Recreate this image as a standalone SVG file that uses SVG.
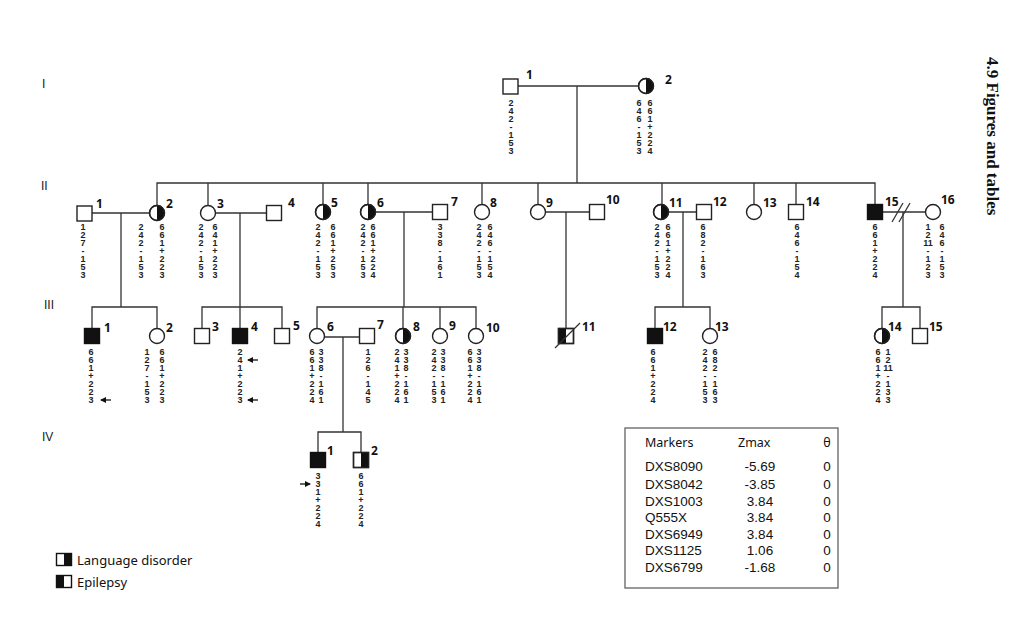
<svg xmlns="http://www.w3.org/2000/svg" width="1019" height="625" viewBox="0 0 1019 625">
<defs>
<style>
.ln{stroke:#333;stroke-width:1.3;fill:none}
.nd{fill:#fff;stroke:#222;stroke-width:1.4}
.bk{fill:#111;stroke:none}
.lbl{font-family:"Noto Sans","Liberation Sans",sans-serif;font-size:12px;font-weight:bold;fill:#111}
.g{font-family:"Liberation Sans",sans-serif;font-size:9px;font-weight:bold;fill:#222;text-anchor:middle}
.gen{font-family:"Liberation Sans",sans-serif;font-size:12px;fill:#222}
.tb{font-family:"Liberation Sans",sans-serif;font-size:13.5px;fill:#111}
.th{font-family:"Noto Sans","Liberation Sans",sans-serif;font-size:12.5px;fill:#111}
.lg{font-family:"Noto Sans","Liberation Sans",sans-serif;font-size:13px;fill:#111}
.ar{stroke:#111;stroke-width:1.3;fill:none}
</style>
<marker id="ah" markerWidth="6" markerHeight="6" refX="5" refY="3" orient="auto" markerUnits="userSpaceOnUse">
<path d="M0,0 L6,3 L0,6 Z" fill="#111"/>
</marker>
</defs>
<rect width="1019" height="625" fill="#fff"/>

<!-- generation numerals -->
<text class="gen" x="42" y="88">I</text>
<text class="gen" x="41" y="190">II</text>
<text class="gen" x="44" y="309">III</text>
<text class="gen" x="42" y="441">IV</text>

<g id="connectors">
<path class="ln" d="M517,86 H639"/>
<path class="ln" d="M577,86 V183"/>
<path class="ln" d="M157,205.5 V183 H875 V204.5"/>
<path class="ln" d="M208,183 V205.5 M323,183 V204.5 M368,183 V204.5 M482,183 V204.5 M538,183 V204.5 M662,183 V204.5 M754,183 V204.5 M796,183 V204.5"/>
<path class="ln" d="M91.5,213 H149.5 M121,213 V307 M92,328.5 V307 H157 V328.5"/>
<path class="ln" d="M215.5,213 H266.5 M240,213 V328.5 M202,328.5 V307 H282 V328.5"/>
<path class="ln" d="M375.5,212 H432.5 M404,212 V307 M317,328.5 V307 H476 V328.5 M403,307 V328.5 M440,307 V328.5"/>
<path class="ln" d="M545.5,212 H589.5 M566,212 V328.5"/>
<path class="ln" d="M668.5,212 H696.5 M683,212 V307 M655,328.5 V307 H710 V328.5"/>
<path class="ln" d="M882.5,212 H925.5 M903,212 V307 M882,328.5 V307 H920 V328.5"/>
<path class="ln" d="M892,222 L903,203 M899,222 L910,203"/>
<path class="ln" d="M324.5,337 H359.5 M343,337 V432 M318,452.5 V432 H361 V452.5"/>
</g>

<!-- Generation I -->
<g id="I-1"><rect class="nd" x="503" y="79" width="15" height="15"/><text class="lbl" x="526" y="79">1</text>
<text class="g" y="106"><tspan x="511">2</tspan><tspan x="511" dy="8">4</tspan><tspan x="511" dy="8">2</tspan><tspan x="511" dy="8">-</tspan><tspan x="511" dy="8">1</tspan><tspan x="511" dy="8">5</tspan><tspan x="511" dy="8">3</tspan></text></g>
<g id="I-2"><circle class="nd" cx="646" cy="86" r="7.5"/><path class="bk" d="M646,78.5 A7.5,7.5 0 0 1 646,93.5 Z"/><circle cx="646" cy="86" r="7.5" fill="none" stroke="#222" stroke-width="1.4"/><text class="lbl" x="665" y="84">2</text>
<text class="g" y="106"><tspan x="639">6</tspan><tspan x="639" dy="8">4</tspan><tspan x="639" dy="8">6</tspan><tspan x="639" dy="8">-</tspan><tspan x="639" dy="8">1</tspan><tspan x="639" dy="8">5</tspan><tspan x="639" dy="8">3</tspan></text>
<text class="g" y="106"><tspan x="650">6</tspan><tspan x="650" dy="8">6</tspan><tspan x="650" dy="8">1</tspan><tspan x="650" dy="8">+</tspan><tspan x="650" dy="8">2</tspan><tspan x="650" dy="8">2</tspan><tspan x="650" dy="8">4</tspan></text></g>

<!-- Generation II -->
<g id="II-1"><rect class="nd" x="77" y="206" width="15" height="15"/><text class="lbl" x="96" y="208">1</text>
<text class="g" y="230"><tspan x="83">1</tspan><tspan x="83" dy="8">2</tspan><tspan x="83" dy="8">7</tspan><tspan x="83" dy="8">-</tspan><tspan x="83" dy="8">1</tspan><tspan x="83" dy="8">5</tspan><tspan x="83" dy="8">3</tspan></text></g>
<g id="II-2"><circle class="nd" cx="157" cy="213" r="7.5"/><path class="bk" d="M157,205.5 A7.5,7.5 0 0 1 157,220.5 Z"/><circle cx="157" cy="213" r="7.5" fill="none" stroke="#222" stroke-width="1.4"/><text class="lbl" x="166" y="208">2</text>
<text class="g" y="230"><tspan x="141">2</tspan><tspan x="141" dy="8">4</tspan><tspan x="141" dy="8">2</tspan><tspan x="141" dy="8">-</tspan><tspan x="141" dy="8">1</tspan><tspan x="141" dy="8">5</tspan><tspan x="141" dy="8">3</tspan></text>
<text class="g" y="230"><tspan x="162">6</tspan><tspan x="162" dy="8">6</tspan><tspan x="162" dy="8">1</tspan><tspan x="162" dy="8">+</tspan><tspan x="162" dy="8">2</tspan><tspan x="162" dy="8">2</tspan><tspan x="162" dy="8">3</tspan></text></g>
<g id="II-3"><circle class="nd" cx="208" cy="213" r="7.5"/><text class="lbl" x="217" y="208">3</text>
<text class="g" y="230"><tspan x="201">2</tspan><tspan x="201" dy="8">4</tspan><tspan x="201" dy="8">2</tspan><tspan x="201" dy="8">-</tspan><tspan x="201" dy="8">1</tspan><tspan x="201" dy="8">5</tspan><tspan x="201" dy="8">3</tspan></text>
<text class="g" y="230"><tspan x="215">6</tspan><tspan x="215" dy="8">4</tspan><tspan x="215" dy="8">1</tspan><tspan x="215" dy="8">+</tspan><tspan x="215" dy="8">2</tspan><tspan x="215" dy="8">2</tspan><tspan x="215" dy="8">3</tspan></text></g>
<g id="II-4"><rect class="nd" x="266.5" y="205.5" width="15" height="15"/><text class="lbl" x="288" y="207">4</text></g>
<g id="II-5"><circle class="nd" cx="323" cy="212" r="7.5"/><path class="bk" d="M323,204.5 A7.5,7.5 0 0 1 323,219.5 Z"/><circle cx="323" cy="212" r="7.5" fill="none" stroke="#222" stroke-width="1.4"/><text class="lbl" x="331" y="207">5</text>
<text class="g" y="230"><tspan x="318">2</tspan><tspan x="318" dy="8">4</tspan><tspan x="318" dy="8">2</tspan><tspan x="318" dy="8">-</tspan><tspan x="318" dy="8">1</tspan><tspan x="318" dy="8">5</tspan><tspan x="318" dy="8">3</tspan></text>
<text class="g" y="230"><tspan x="333">6</tspan><tspan x="333" dy="8">6</tspan><tspan x="333" dy="8">1</tspan><tspan x="333" dy="8">+</tspan><tspan x="333" dy="8">2</tspan><tspan x="333" dy="8">5</tspan><tspan x="333" dy="8">3</tspan></text></g>
<g id="II-6"><circle class="nd" cx="368" cy="212" r="7.5"/><path class="bk" d="M368,204.5 A7.5,7.5 0 0 1 368,219.5 Z"/><circle cx="368" cy="212" r="7.5" fill="none" stroke="#222" stroke-width="1.4"/><text class="lbl" x="377" y="207">6</text>
<text class="g" y="230"><tspan x="363">2</tspan><tspan x="363" dy="8">4</tspan><tspan x="363" dy="8">2</tspan><tspan x="363" dy="8">-</tspan><tspan x="363" dy="8">1</tspan><tspan x="363" dy="8">5</tspan><tspan x="363" dy="8">3</tspan></text>
<text class="g" y="230"><tspan x="373">6</tspan><tspan x="373" dy="8">6</tspan><tspan x="373" dy="8">1</tspan><tspan x="373" dy="8">+</tspan><tspan x="373" dy="8">2</tspan><tspan x="373" dy="8">2</tspan><tspan x="373" dy="8">4</tspan></text></g>
<g id="II-7"><rect class="nd" x="432.5" y="204.5" width="15" height="15"/><text class="lbl" x="451" y="206">7</text>
<text class="g" y="230"><tspan x="440">3</tspan><tspan x="440" dy="8">3</tspan><tspan x="440" dy="8">8</tspan><tspan x="440" dy="8">-</tspan><tspan x="440" dy="8">1</tspan><tspan x="440" dy="8">6</tspan><tspan x="440" dy="8">1</tspan></text></g>
<g id="II-8"><circle class="nd" cx="482" cy="212" r="7.5"/><text class="lbl" x="490" y="207">8</text>
<text class="g" y="230"><tspan x="479">2</tspan><tspan x="479" dy="8">4</tspan><tspan x="479" dy="8">2</tspan><tspan x="479" dy="8">-</tspan><tspan x="479" dy="8">1</tspan><tspan x="479" dy="8">5</tspan><tspan x="479" dy="8">3</tspan></text>
<text class="g" y="230"><tspan x="490">6</tspan><tspan x="490" dy="8">4</tspan><tspan x="490" dy="8">6</tspan><tspan x="490" dy="8">-</tspan><tspan x="490" dy="8">1</tspan><tspan x="490" dy="8">5</tspan><tspan x="490" dy="8">4</tspan></text></g>
<g id="II-9"><circle class="nd" cx="538" cy="212" r="7.5"/><text class="lbl" x="546" y="207">9</text></g>
<g id="II-10"><rect class="nd" x="589.5" y="204.5" width="15" height="15"/><text class="lbl" x="606" y="204">10</text></g>
<g id="II-11"><circle class="nd" cx="661" cy="212" r="7.5"/><path class="bk" d="M661,204.5 A7.5,7.5 0 0 1 661,219.5 Z"/><circle cx="661" cy="212" r="7.5" fill="none" stroke="#222" stroke-width="1.4"/><text class="lbl" x="669" y="207">11</text>
<text class="g" y="230"><tspan x="657">2</tspan><tspan x="657" dy="8">4</tspan><tspan x="657" dy="8">2</tspan><tspan x="657" dy="8">-</tspan><tspan x="657" dy="8">1</tspan><tspan x="657" dy="8">5</tspan><tspan x="657" dy="8">3</tspan></text>
<text class="g" y="230"><tspan x="668">6</tspan><tspan x="668" dy="8">6</tspan><tspan x="668" dy="8">1</tspan><tspan x="668" dy="8">+</tspan><tspan x="668" dy="8">2</tspan><tspan x="668" dy="8">2</tspan><tspan x="668" dy="8">4</tspan></text></g>
<g id="II-12"><rect class="nd" x="696.5" y="204.5" width="15" height="15"/><text class="lbl" x="713" y="206">12</text>
<text class="g" y="230"><tspan x="703">6</tspan><tspan x="703" dy="8">8</tspan><tspan x="703" dy="8">2</tspan><tspan x="703" dy="8">-</tspan><tspan x="703" dy="8">1</tspan><tspan x="703" dy="8">6</tspan><tspan x="703" dy="8">3</tspan></text></g>
<g id="II-13"><circle class="nd" cx="754" cy="212" r="7.5"/><text class="lbl" x="763" y="207">13</text></g>
<g id="II-14"><rect class="nd" x="788.5" y="204.5" width="15" height="15"/><text class="lbl" x="806" y="206">14</text>
<text class="g" y="230"><tspan x="797">6</tspan><tspan x="797" dy="8">4</tspan><tspan x="797" dy="8">6</tspan><tspan x="797" dy="8">-</tspan><tspan x="797" dy="8">1</tspan><tspan x="797" dy="8">5</tspan><tspan x="797" dy="8">4</tspan></text></g>
<g id="II-15"><rect x="867.5" y="204.5" width="15" height="15" fill="#111" stroke="#111" stroke-width="1.4"/><text class="lbl" x="885" y="206">15</text>
<text class="g" y="230"><tspan x="875">6</tspan><tspan x="875" dy="8">6</tspan><tspan x="875" dy="8">1</tspan><tspan x="875" dy="8">+</tspan><tspan x="875" dy="8">2</tspan><tspan x="875" dy="8">2</tspan><tspan x="875" dy="8">4</tspan></text></g>
<g id="II-16"><circle class="nd" cx="933" cy="212" r="7.5"/><text class="lbl" x="941" y="204">16</text>
<text class="g" y="230"><tspan x="928">1</tspan><tspan x="928" dy="8">2</tspan><tspan x="928" dy="8">11</tspan><tspan x="928" dy="8">-</tspan><tspan x="928" dy="8">1</tspan><tspan x="928" dy="8">2</tspan><tspan x="928" dy="8">3</tspan></text>
<text class="g" y="230"><tspan x="942">6</tspan><tspan x="942" dy="8">4</tspan><tspan x="942" dy="8">6</tspan><tspan x="942" dy="8">-</tspan><tspan x="942" dy="8">1</tspan><tspan x="942" dy="8">5</tspan><tspan x="942" dy="8">3</tspan></text></g>

<!-- Generation III -->
<g id="III-1"><rect x="84.5" y="328.5" width="15" height="15" fill="#111" stroke="#111" stroke-width="1.4"/><text class="lbl" x="104" y="332">1</text>
<text class="g" y="355"><tspan x="91">6</tspan><tspan x="91" dy="8">6</tspan><tspan x="91" dy="8">1</tspan><tspan x="91" dy="8">+</tspan><tspan x="91" dy="8">2</tspan><tspan x="91" dy="8">2</tspan><tspan x="91" dy="8">3</tspan></text>
<path class="ar" d="M111,400 H101" marker-end="url(#ah)"/></g>
<g id="III-2"><circle class="nd" cx="157" cy="336" r="7.5"/><text class="lbl" x="166" y="332">2</text>
<text class="g" y="355"><tspan x="147">1</tspan><tspan x="147" dy="8">2</tspan><tspan x="147" dy="8">7</tspan><tspan x="147" dy="8">-</tspan><tspan x="147" dy="8">1</tspan><tspan x="147" dy="8">5</tspan><tspan x="147" dy="8">3</tspan></text>
<text class="g" y="355"><tspan x="162">6</tspan><tspan x="162" dy="8">6</tspan><tspan x="162" dy="8">1</tspan><tspan x="162" dy="8">+</tspan><tspan x="162" dy="8">2</tspan><tspan x="162" dy="8">2</tspan><tspan x="162" dy="8">3</tspan></text></g>
<g id="III-3"><rect class="nd" x="194.5" y="328.5" width="15" height="15"/><text class="lbl" x="212" y="331">3</text></g>
<g id="III-4"><rect x="232.5" y="328.5" width="15" height="15" fill="#111" stroke="#111" stroke-width="1.4"/><text class="lbl" x="251" y="331">4</text>
<text class="g" y="355"><tspan x="240">2</tspan><tspan x="240" dy="8">4</tspan><tspan x="240" dy="8">1</tspan><tspan x="240" dy="8">+</tspan><tspan x="240" dy="8">2</tspan><tspan x="240" dy="8">2</tspan><tspan x="240" dy="8">3</tspan></text>
<path class="ar" d="M258,360 H248" marker-end="url(#ah)"/>
<path class="ar" d="M258,400 H248" marker-end="url(#ah)"/></g>
<g id="III-5"><rect class="nd" x="274.5" y="328.5" width="15" height="15"/><text class="lbl" x="293" y="330">5</text></g>
<g id="III-6"><circle class="nd" cx="317" cy="336" r="7.5"/><text class="lbl" x="327" y="331">6</text>
<text class="g" y="355"><tspan x="312">6</tspan><tspan x="312" dy="8">6</tspan><tspan x="312" dy="8">1</tspan><tspan x="312" dy="8">+</tspan><tspan x="312" dy="8">2</tspan><tspan x="312" dy="8">2</tspan><tspan x="312" dy="8">4</tspan></text>
<text class="g" y="355"><tspan x="321">3</tspan><tspan x="321" dy="8">3</tspan><tspan x="321" dy="8">8</tspan><tspan x="321" dy="8">-</tspan><tspan x="321" dy="8">1</tspan><tspan x="321" dy="8">6</tspan><tspan x="321" dy="8">1</tspan></text></g>
<g id="III-7"><rect class="nd" x="359.5" y="328.5" width="15" height="15"/><text class="lbl" x="377" y="329">7</text>
<text class="g" y="355"><tspan x="368">1</tspan><tspan x="368" dy="8">2</tspan><tspan x="368" dy="8">6</tspan><tspan x="368" dy="8">-</tspan><tspan x="368" dy="8">1</tspan><tspan x="368" dy="8">4</tspan><tspan x="368" dy="8">5</tspan></text></g>
<g id="III-8"><circle class="nd" cx="403" cy="336" r="7.5"/><path class="bk" d="M403,328.5 A7.5,7.5 0 0 1 403,343.5 Z"/><circle cx="403" cy="336" r="7.5" fill="none" stroke="#222" stroke-width="1.4"/><text class="lbl" x="413" y="331">8</text>
<text class="g" y="355"><tspan x="397">2</tspan><tspan x="397" dy="8">4</tspan><tspan x="397" dy="8">1</tspan><tspan x="397" dy="8">+</tspan><tspan x="397" dy="8">2</tspan><tspan x="397" dy="8">2</tspan><tspan x="397" dy="8">4</tspan></text>
<text class="g" y="355"><tspan x="406">3</tspan><tspan x="406" dy="8">3</tspan><tspan x="406" dy="8">8</tspan><tspan x="406" dy="8">-</tspan><tspan x="406" dy="8">1</tspan><tspan x="406" dy="8">6</tspan><tspan x="406" dy="8">1</tspan></text></g>
<g id="III-9"><circle class="nd" cx="440" cy="336" r="7.5"/><text class="lbl" x="449" y="330">9</text>
<text class="g" y="355"><tspan x="434">2</tspan><tspan x="434" dy="8">4</tspan><tspan x="434" dy="8">2</tspan><tspan x="434" dy="8">-</tspan><tspan x="434" dy="8">1</tspan><tspan x="434" dy="8">5</tspan><tspan x="434" dy="8">3</tspan></text>
<text class="g" y="355"><tspan x="443">3</tspan><tspan x="443" dy="8">3</tspan><tspan x="443" dy="8">8</tspan><tspan x="443" dy="8">-</tspan><tspan x="443" dy="8">1</tspan><tspan x="443" dy="8">6</tspan><tspan x="443" dy="8">1</tspan></text></g>
<g id="III-10"><circle class="nd" cx="476" cy="336" r="7.5"/><text class="lbl" x="486" y="332">10</text>
<text class="g" y="355"><tspan x="470">6</tspan><tspan x="470" dy="8">6</tspan><tspan x="470" dy="8">1</tspan><tspan x="470" dy="8">+</tspan><tspan x="470" dy="8">2</tspan><tspan x="470" dy="8">2</tspan><tspan x="470" dy="8">4</tspan></text>
<text class="g" y="355"><tspan x="479">3</tspan><tspan x="479" dy="8">3</tspan><tspan x="479" dy="8">8</tspan><tspan x="479" dy="8">-</tspan><tspan x="479" dy="8">1</tspan><tspan x="479" dy="8">6</tspan><tspan x="479" dy="8">1</tspan></text></g>
<g id="III-11"><rect class="nd" x="558.5" y="328.5" width="15" height="15"/><rect class="bk" x="558.5" y="328.5" width="7.5" height="15"/><rect x="558.5" y="328.5" width="15" height="15" fill="none" stroke="#222" stroke-width="1.4"/>
<path class="ln" d="M555,348 L580,323"/><text class="lbl" x="582" y="331">11</text></g>
<g id="III-12"><rect x="647.5" y="328.5" width="15" height="15" fill="#111" stroke="#111" stroke-width="1.4"/><text class="lbl" x="663" y="331">12</text>
<text class="g" y="355"><tspan x="653">6</tspan><tspan x="653" dy="8">6</tspan><tspan x="653" dy="8">1</tspan><tspan x="653" dy="8">+</tspan><tspan x="653" dy="8">2</tspan><tspan x="653" dy="8">2</tspan><tspan x="653" dy="8">4</tspan></text></g>
<g id="III-13"><circle class="nd" cx="710" cy="336" r="7.5"/><text class="lbl" x="715" y="331">13</text>
<text class="g" y="355"><tspan x="705">2</tspan><tspan x="705" dy="8">4</tspan><tspan x="705" dy="8">2</tspan><tspan x="705" dy="8">-</tspan><tspan x="705" dy="8">1</tspan><tspan x="705" dy="8">5</tspan><tspan x="705" dy="8">3</tspan></text>
<text class="g" y="355"><tspan x="715">6</tspan><tspan x="715" dy="8">8</tspan><tspan x="715" dy="8">2</tspan><tspan x="715" dy="8">-</tspan><tspan x="715" dy="8">1</tspan><tspan x="715" dy="8">6</tspan><tspan x="715" dy="8">3</tspan></text></g>
<g id="III-14"><circle class="nd" cx="882" cy="336" r="7.5"/><path class="bk" d="M882,328.5 A7.5,7.5 0 0 1 882,343.5 Z"/><circle cx="882" cy="336" r="7.5" fill="none" stroke="#222" stroke-width="1.4"/><text class="lbl" x="888" y="331">14</text>
<text class="g" y="355"><tspan x="878">6</tspan><tspan x="878" dy="8">6</tspan><tspan x="878" dy="8">1</tspan><tspan x="878" dy="8">+</tspan><tspan x="878" dy="8">2</tspan><tspan x="878" dy="8">2</tspan><tspan x="878" dy="8">4</tspan></text>
<text class="g" y="355"><tspan x="888">1</tspan><tspan x="888" dy="8">2</tspan><tspan x="888" dy="8">11</tspan><tspan x="888" dy="8">-</tspan><tspan x="888" dy="8">1</tspan><tspan x="888" dy="8">3</tspan><tspan x="888" dy="8">3</tspan></text></g>
<g id="III-15"><rect class="nd" x="912.5" y="328.5" width="15" height="15"/><text class="lbl" x="929" y="331">15</text></g>

<!-- Generation IV -->
<g id="IV-1"><rect x="310.5" y="452.5" width="15" height="15" fill="#111" stroke="#111" stroke-width="1.4"/><text class="lbl" x="327" y="455">1</text>
<text class="g" y="479"><tspan x="318">3</tspan><tspan x="318" dy="8">3</tspan><tspan x="318" dy="8">1</tspan><tspan x="318" dy="8">+</tspan><tspan x="318" dy="8">2</tspan><tspan x="318" dy="8">2</tspan><tspan x="318" dy="8">4</tspan></text>
<path class="ar" d="M300,484 H310" marker-end="url(#ah)"/></g>
<g id="IV-2"><rect class="nd" x="353.5" y="452.5" width="15" height="15"/><rect class="bk" x="361" y="452.5" width="7.5" height="15"/><rect x="353.5" y="452.5" width="15" height="15" fill="none" stroke="#222" stroke-width="1.4"/><text class="lbl" x="371" y="455">2</text>
<text class="g" y="479"><tspan x="361">6</tspan><tspan x="361" dy="8">6</tspan><tspan x="361" dy="8">1</tspan><tspan x="361" dy="8">+</tspan><tspan x="361" dy="8">2</tspan><tspan x="361" dy="8">2</tspan><tspan x="361" dy="8">4</tspan></text></g>

<!-- Table -->
<g id="table">
<rect x="625" y="428" width="213" height="160" fill="#fff" stroke="#555" stroke-width="1.2"/>
<text class="th" x="645" y="447">Markers</text>
<text class="th" x="738" y="447">Zmax</text>
<text class="th" x="827" y="447" text-anchor="middle">θ</text>
<text class="tb" x="645" y="471">DXS8090</text><text class="tb" x="760" y="471" text-anchor="middle">-5.69</text><text class="tb" x="827" y="471" text-anchor="middle">0</text>
<text class="tb" x="645" y="489">DXS8042</text><text class="tb" x="760" y="489" text-anchor="middle">-3.85</text><text class="tb" x="827" y="489" text-anchor="middle">0</text>
<text class="tb" x="645" y="506">DXS1003</text><text class="tb" x="760" y="506" text-anchor="middle">3.84</text><text class="tb" x="827" y="506" text-anchor="middle">0</text>
<text class="tb" x="645" y="522">Q555X</text><text class="tb" x="760" y="522" text-anchor="middle">3.84</text><text class="tb" x="827" y="522" text-anchor="middle">0</text>
<text class="tb" x="645" y="539">DXS6949</text><text class="tb" x="760" y="539" text-anchor="middle">3.84</text><text class="tb" x="827" y="539" text-anchor="middle">0</text>
<text class="tb" x="645" y="555">DXS1125</text><text class="tb" x="760" y="555" text-anchor="middle">1.06</text><text class="tb" x="827" y="555" text-anchor="middle">0</text>
<text class="tb" x="645" y="572">DXS6799</text><text class="tb" x="760" y="572" text-anchor="middle">-1.68</text><text class="tb" x="827" y="572" text-anchor="middle">0</text>
</g>

<!-- Legend -->
<g id="legend">
<rect x="56.5" y="553.5" width="15" height="12" fill="#fff" stroke="#111" stroke-width="1.4"/><rect x="64" y="553.5" width="7.5" height="12" fill="#111"/>
<text class="lg" x="77" y="565">Language disorder</text>
<rect x="56.5" y="575.5" width="15" height="12" fill="#fff" stroke="#111" stroke-width="1.4"/><rect x="56.5" y="575.5" width="7.5" height="12" fill="#111"/>
<text class="lg" x="77" y="587">Epilepsy</text>
</g>

<text transform="translate(987,57) rotate(90)" font-family="'Liberation Serif',serif" font-size="17" font-weight="bold" fill="#111">4.9 Figures and tables</text>
</svg>
